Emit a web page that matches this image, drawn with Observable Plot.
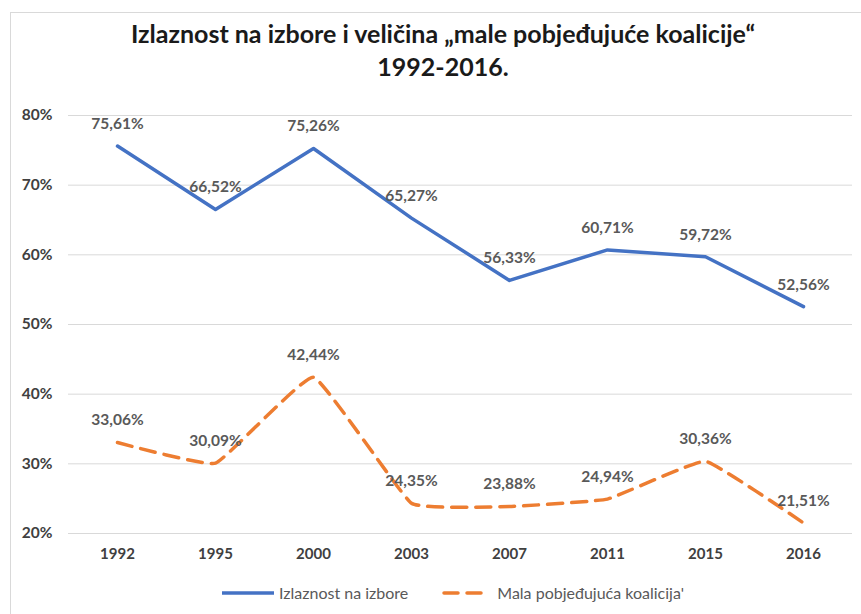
<!DOCTYPE html>
<html>
<head>
<meta charset="utf-8">
<script src="https://cdn.jsdelivr.net/npm/d3@7"></script>
<script src="https://cdn.jsdelivr.net/npm/@observablehq/plot@0.6"></script>
<style>
  html, body { margin: 0; padding: 0; background: #fff; }
  #wrap { position: relative; width: 861px; height: 614px; overflow: hidden; font-family: Lato, "Open Sans", sans-serif; }
  #frame { position: absolute; left: 10px; top: 12px; width: 900px; height: 700px; border: 1px solid #d9d9d9; box-sizing: border-box; }
  #title { position: absolute; left: 0; top: 17px; width: 886px; text-align: center; font-weight: 700; font-size: 25px; line-height: 33px; color: #1a1a1a; }
  #chart { position: absolute; left: 0; top: 100px; }
  #legend { position: absolute; top: 583px; left: 222px; display: flex; align-items: center; font-size: 16px; color: #595959; }
  .item { display: flex; align-items: center; }
  .item svg { margin-right: 5px; }
</style>
</head>
<body>
<div id="wrap">
  <div id="frame"></div>
  <div id="title">Izlaznost na izbore i veličina „male pobjeđujuće koalicije“<br>1992-2016.</div>
  <div id="chart"></div>
  <div id="legend"></div>
</div>
<script>
const years = ["1992", "1995", "2000", "2003", "2007", "2011", "2015", "2016"];
const turnout = [75.61, 66.52, 75.26, 65.27, 56.33, 60.71, 59.72, 52.56];
const coalition = [33.06, 30.09, 42.44, 24.35, 23.88, 24.94, 30.36, 21.51];
const yTicks = [20, 30, 40, 50, 60, 70, 80];
const seriesNames = ["Izlaznost na izbore", "Mala pobjeđujuća koalicija'"];
const colors = ["#4472C4", "#ED7D31"];

const dataA = years.map((y, i) => ({year: y, v: turnout[i]}));
const dataB = years.map((y, i) => ({year: y, v: coalition[i]}));
const fmt = v => v.toFixed(2).replace(".", ",") + "%";

const plot = Plot.plot({
  width: 861,
  height: 470,
  marginTop: 15,
  marginBottom: 37,
  marginLeft: 68,
  marginRight: 9,
  style: {fontFamily: "Lato, 'Open Sans', sans-serif", background: "transparent"},
  x: {type: "point", domain: years, padding: 0.5, label: null},
  y: {domain: [20, 80], label: null},
  marks: [
    Plot.gridY(yTicks, {stroke: "#d9d9d9", strokeOpacity: 1, strokeWidth: 1}),
    Plot.axisY(yTicks, {tickSize: 0, tickPadding: 16, tickFormat: d => d + "%", fontSize: 15.5, fontWeight: 700, fill: "#404040", label: null}),
    Plot.axisX({tickSize: 0, tickPadding: 15, fontSize: 15, fontWeight: 700, fill: "#404040", label: null}),
    Plot.line(dataA, {x: "year", y: "v", stroke: colors[0], strokeWidth: 3.5, strokeLinejoin: "round"}),
    Plot.line(dataB, {x: "year", y: "v", stroke: colors[1], strokeWidth: 3.5, curve: "cardinal", tension: 0.7, strokeDasharray: "15 9", strokeLinecap: "round"}),
    Plot.text(dataA, {x: "year", y: "v", text: d => fmt(d.v), dy: -22, fontSize: 15.5, fontWeight: 700, fill: "#595959"}),
    Plot.text(dataB, {x: "year", y: "v", text: d => fmt(d.v), dy: -22, fontSize: 15.5, fontWeight: 700, fill: "#595959"})
  ]
});
document.getElementById("chart").appendChild(plot);

const legend = document.getElementById("legend");
seriesNames.forEach((name, i) => {
  const item = document.createElement("div");
  item.className = "item";
  item.style.marginRight = i === 0 ? "32px" : "0";
  const dash = i === 1 ? 'stroke-dasharray="14 9" stroke-linecap="round"' : '';
  item.innerHTML = `<svg width="52" height="10"><line x1="${i===1?4:0}" y1="5" x2="${i===1?48:52}" y2="5" stroke="${colors[i]}" stroke-width="3.5" ${dash}/></svg><span>${name}</span>`;
  legend.appendChild(item);
});
</script>
</body>
</html>
